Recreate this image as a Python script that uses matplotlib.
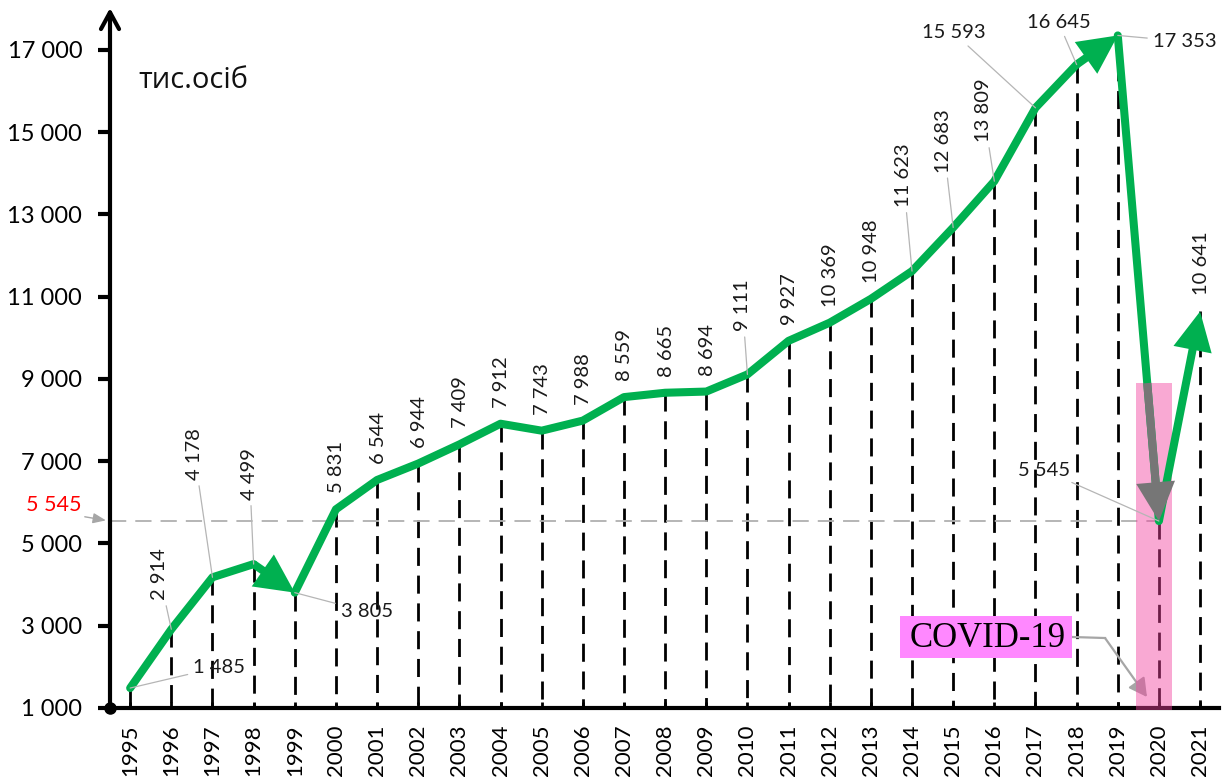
import matplotlib
matplotlib.use("Agg")
import matplotlib.pyplot as plt
from matplotlib.patches import FancyArrowPatch, Rectangle, ArrowStyle

# ---------------- data ----------------
years = list(range(1995, 2022))
values = [1485, 2914, 4178, 4499, 3805, 5831, 6544, 6944, 7409, 7912, 7743,
          7988, 8559, 8665, 8694, 9111, 9927, 10369, 10948, 11623, 12683,
          13809, 15593, 16645, 17353, 5545, 10641]
y_ticks = [1000, 3000, 5000, 7000, 9000, 11000, 13000, 15000, 17000]
unit_label = "тис.осіб"
covid_label = "COVID-19"
covid_year = 2020
arrow_years = [1999, 2019, 2021]   # segments ending with green arrowheads

# ---------------- label layout (pixels offsets) ----------------
# year: (dx, dy, rotation, ha, va, leader)
layout = {
    1995: (63, 21, 0, 'left', 'center', True),
    1996: (-12, 29, 90, 'center', 'bottom', True),
    1997: (-18, 97, 90, 'center', 'bottom', True),
    1998: (-4, 64, 90, 'center', 'bottom', True),
    1999: (46, -19, 0, 'left', 'center', True),
    2010: (-5, 43, 90, 'center', 'bottom', True),
    2014: (-9, 64, 90, 'center', 'bottom', True),
    2015: (-10, 55, 90, 'center', 'bottom', True),
    2016: (-11, 39, 90, 'center', 'bottom', True),
    2017: (-50, 75, 0, 'right', 'center', True),
    2018: (-18, 42, 0, 'center', 'center', True),
    2019: (35, -6, 0, 'left', 'center', True),
    2020: (-89, 51, 0, 'right', 'center', True),
}
default_layout = (1, 16, 90, 'center', 'bottom', False)

GREEN = '#00b050'
GREY_ARROW = '#767676'
NUM_FONT = ['Lato', 'DejaVu Sans']
LW = 5.8

def fmt(v):
    return f"{v:,}".replace(",", " ")

fig = plt.figure(figsize=(12.3, 7.82), dpi=100)
ax = fig.add_axes([110 / 1230, 1 - 708 / 782, (1219 - 110) / 1230, 700 / 782])
ax.set_xlim(1994.51, 2021.46)
ax.set_ylim(1000, 18020)

# spines
for s in ['top', 'right', 'left']:
    ax.spines[s].set_visible(False)
ax.spines['bottom'].set_linewidth(3)
ax.spines['bottom'].set_zorder(2.5)

# y axis with arrow
yarrow = FancyArrowPatch((0, 0), (0, 1), transform=ax.transAxes,
                         arrowstyle=ArrowStyle('->', head_length=12, head_width=6.5),
                         mutation_scale=1, lw=3, color='black', clip_on=False,
                         zorder=3, shrinkA=0, shrinkB=0, capstyle='round')
ax.add_patch(yarrow)
ax.plot([0], [0], 'o', color='black', ms=8, transform=ax.transAxes, clip_on=False, zorder=4)

# ticks
ax.set_yticks(y_ticks)
ax.set_yticklabels([fmt(v) for v in y_ticks], fontsize=17, family=NUM_FONT)
ax.tick_params(axis='y', direction='out', length=9, width=3, pad=11, color='black')
ax.set_xticks(years)
ax.set_xticklabels([str(y) for y in years], rotation=90, fontsize=16, family=NUM_FONT)
ax.tick_params(axis='x', direction='in', length=4, width=2, pad=12)

# vertical dashed drop lines
for yr, v in zip(years, values):
    ax.plot([yr, yr], [v, 1000], color='black', lw=2.0, ls=(0, (6.5, 3.5)), zorder=2,
            solid_capstyle='butt')

# horizontal reference at covid value
cv = values[years.index(covid_year)]
ax.plot([ax.get_xlim()[0], covid_year], [cv, cv], color='#b0b0b0', lw=1.3,
        ls=(0, (9, 5)), zorder=2)

# covid band
band_left, band_right, band_top = 2019.45, 2020.32, 8900
ax.add_patch(Rectangle((band_left, 950), band_right - band_left, band_top - 950,
                       facecolor='#f2419f', alpha=0.45, lw=0, zorder=4, clip_on=False))

# green line: plain runs + arrow segments
head = ArrowStyle('simple', head_length=28, head_width=28, tail_width=LW)
run_x, run_y = [years[0]], [values[0]]
for k in range(1, len(years)):
    if years[k] in arrow_years:
        if len(run_x) > 1:
            ax.plot(run_x, run_y, color=GREEN, lw=LW, solid_joinstyle='round',
                    solid_capstyle='round', zorder=5)
        ax.add_patch(FancyArrowPatch((years[k - 1], values[k - 1]), (years[k], values[k]),
                                     arrowstyle=head, mutation_scale=1, lw=0,
                                     color=GREEN, shrinkA=0, shrinkB=0, zorder=5))
        run_x, run_y = [years[k]], [values[k]]
    else:
        run_x.append(years[k])
        run_y.append(values[k])
if len(run_x) > 1:
    ax.plot(run_x, run_y, color=GREEN, lw=LW, solid_joinstyle='round',
            solid_capstyle='round', zorder=5)

# grey covid arrow over the drop segment
i = years.index(covid_year)
x0, y0, x1, y1 = years[i - 1], values[i - 1], years[i], values[i]
t = (y0 - band_top) / (y0 - y1)
start = (x0 + t * (x1 - x0), band_top)
ax.add_patch(FancyArrowPatch(start, (x1, y1), arrowstyle=head, mutation_scale=1,
                             lw=0, color=GREY_ARROW, shrinkA=0, shrinkB=0, zorder=7))

# data labels
for yr, v in zip(years, values):
    dx, dy, rot, ha, va, leader = layout.get(yr, default_layout)
    ap = None
    if leader:
        ap = dict(arrowstyle='-', color='#b5b5b5', lw=0.9, shrinkA=2, shrinkB=0)
    ax.annotate(fmt(v), xy=(yr, v), xytext=(dx, dy), textcoords='offset pixels',
                rotation=rot, ha=ha, va=va, fontsize=14.5, family=NUM_FONT,
                color='#1a1a1a', arrowprops=ap, zorder=8)

# red label on the y axis
ax.annotate(fmt(cv), xy=(0, cv), xycoords=ax.get_yaxis_transform(),
            xytext=(-28, 16), textcoords='offset pixels', ha='right', va='center',
            color='red', fontsize=15.5, family=NUM_FONT, annotation_clip=False,
            arrowprops=dict(arrowstyle='-|>,head_length=0.5,head_width=0.2',
                            color='#a6a6a6', lw=1, shrinkA=0, shrinkB=3,
                            relpos=(0.87, 0.0)))

# unit label
ax.text(1995.2, 16250, unit_label, fontsize=21, family=['Open Sans', 'DejaVu Sans'],
        ha='left', va='center', color='#111111')

# COVID box
bx0, bx1, by0, by1 = 2013.71, 2017.89, 2216, 3237
ax.add_patch(Rectangle((bx0, by0), bx1 - bx0, by1 - by0, facecolor='#ff88ff',
                       lw=0, zorder=6))
ax.text((bx0 + bx1) / 2 + 0.05, (by0 + by1) / 2 - 30, covid_label, fontsize=25,
        family=['Liberation Serif', 'DejaVu Serif'], ha='center', va='center',
        zorder=7, color='black')
ymid = (by0 + by1) / 2
elbow = (bx1 + 0.8, ymid - 25)
ax.plot([bx1, elbow[0]], [ymid, elbow[1]], color='#a6a6a6', lw=1.6, zorder=3)
ax.add_patch(FancyArrowPatch(elbow, (2019.71, 1267),
                             arrowstyle=ArrowStyle('-|>', head_length=11, head_width=6),
                             mutation_scale=1, lw=1.6, color='#a6a6a6',
                             shrinkA=0, shrinkB=0, zorder=3))

fig.savefig('out.png', dpi=100)
